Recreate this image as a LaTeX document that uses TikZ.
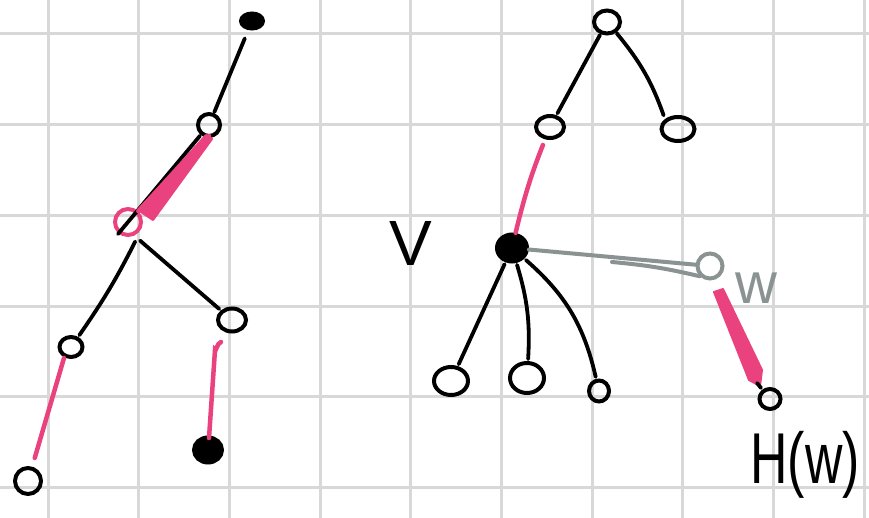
\documentclass[tikz,border=0pt]{standalone}
\usepackage{fontspec}
\setmainfont{Liberation Sans}
\usetikzlibrary{shapes.geometric}
\definecolor{pinkc}{RGB}{234,66,126}
\definecolor{grayc}{RGB}{138,146,146}
\definecolor{gridc}{RGB}{216,216,216}
\begin{document}
\begin{tikzpicture}[x=1pt,y=-1pt,
  gridline/.style={gridc,line width=3pt},
  vtx/.style={draw=black,line width=4pt,ellipse,inner sep=0pt},
  fvtx/.style={vtx,fill=black},
  edge/.style={black,line width=3.8pt,line cap=round},
  pedge/.style={pinkc,line width=4.5pt,line cap=round},
  gedge/.style={grayc,line width=4pt,line cap=round},
  lbl/.style={inner sep=0pt}]
\useasboundingbox (0,0) rectangle (869,518);
\fill[white] (0,0) rectangle (869,518);
% grid
\foreach \i in {0,...,9} {\draw[gridline] ({48+90.7*\i},0) -- ({48+90.7*\i},518);}
\foreach \j in {0,...,5} {\draw[gridline] (0,{34+90.7*\j}) -- (869,{34+90.7*\j});}

% ---------- left tree ----------
\node[fvtx,minimum width=22pt,minimum height=15pt] (t1) at (252,21) {};
\node[vtx,minimum size=22pt] (a1) at (209,125) {};
\node[draw=pinkc,line width=4pt,circle,inner sep=0pt,minimum size=26pt] (b1) at (128,222) {};
\node[vtx,minimum width=23pt,minimum height=20pt] (c1) at (71,347) {};
\node[vtx,minimum width=28pt,minimum height=23pt] (d1) at (232,320) {};
\node[vtx,minimum size=26pt] (e1) at (28,481) {};
\node[fvtx,minimum width=28pt,minimum height=25pt] (f1) at (208,450) {};
\coordinate (bx) at (118,234);

\draw[edge,shorten <=9pt,shorten >=1pt] (t1) -- (a1);
\draw[edge,shorten <=1pt] (a1) -- (bx);
\fill[pinkc,line join=round,draw=pinkc,line width=2pt] (206,135) -- (212,139) -- (153,220) -- (138,210) -- cycle;
\draw[pedge] (a1) ++(0,11) -- (b1);
\draw[edge,shorten <=4pt,shorten >=2pt] (b1) ++(9,16) to[bend left=4] (c1);
\draw[edge,shorten <=4pt,shorten >=2pt] (b1) ++(9,16) -- (d1);
\draw[pedge,shorten >=9pt] (c1) ++(-7,11) -- (e1);
\draw[pedge] (221,342) to[out=-170,in=-88] (215,350) -- (209,438);

% ---------- right tree ----------
\node[vtx,minimum width=26pt,minimum height=23pt] (r) at (607,22) {};
\node[vtx,minimum width=28pt,minimum height=22pt] (l) at (550,127) {};
\node[vtx,minimum width=33pt,minimum height=24pt] (rr) at (678,129) {};
\node[fvtx,minimum width=30pt,minimum height=27pt] (v) at (512,248) {};
\node[draw=grayc,line width=4pt,circle,inner sep=0pt,minimum size=25pt] (w) at (710,266) {};
\node[vtx,minimum width=21pt,minimum height=20pt] (h) at (770,399) {};
\node[vtx,minimum width=34pt,minimum height=28pt] (v1) at (451,381) {};
\node[vtx,minimum width=34pt,minimum height=30pt] (v2) at (527,378) {};
\node[vtx,minimum width=20pt,minimum height=21pt] (v3) at (599,391) {};

\draw[edge,shorten <=1pt,shorten >=2pt] (r) -- (l);
\draw[edge,shorten <=1pt,shorten >=4pt] (r) to[bend left=10] (rr.north west);
\draw[pedge,shorten <=6pt] (l) to[bend right=4] (v);
\draw[gedge] (v) -- (w);
\draw[gedge] (612,262) to[bend left=4] (w.south west);
\fill[pinkc,draw=pinkc,line width=2pt,line join=round] (714,292) -- (723,289) -- (762,370) -- (760,386) -- (749,380) -- cycle;
\draw[edge,shorten <=2pt] (h) -- (757,383);
\draw[edge,shorten <=2pt,shorten >=2pt] (v) -- (v1);
\draw[edge,shorten <=2pt,shorten >=2pt] (v) to[bend left=10] (v2);
\draw[edge,shorten <=2pt,shorten >=2pt] (v) to[bend left=18] (v3);

% labels
\node[lbl,font=\fontsize{64}{64}\selectfont] (vl) at (411,243) {V};
\node[lbl,text=grayc,font=\fontsize{58}{58}\selectfont] (wl) at (756,288) {w};
\node[lbl,font=\fontsize{72}{72}\selectfont] (hl) at (805,465) {\scalebox{0.72}[1]{H(w)}};
\end{tikzpicture}
\end{document}
